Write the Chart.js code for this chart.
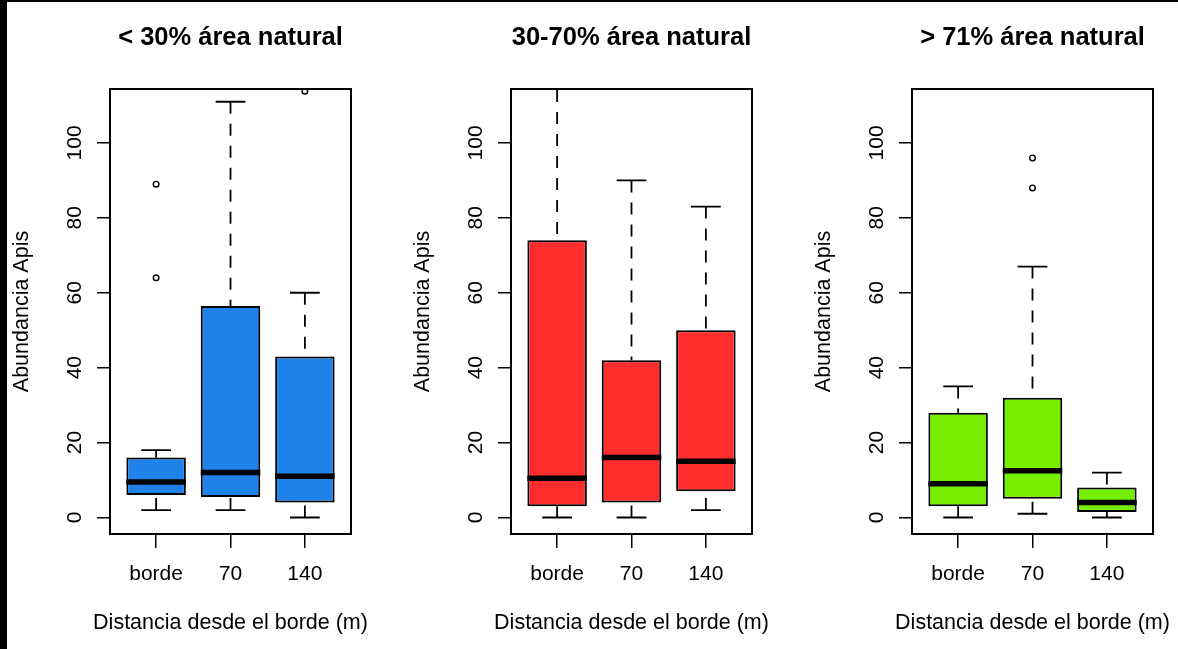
<!DOCTYPE html>
<html>
<head>
<meta charset="utf-8">
<script src="https://cdn.jsdelivr.net/npm/chart.js@4/dist/chart.umd.min.js"></script>
<style>
  html, body { margin: 0; padding: 0; background: #fff; }
  #wrap { position: relative; width: 1178px; height: 649px; overflow: hidden; background: #fff; }
  .panel { position: absolute; top: 0; height: 649px; }
  .panel canvas { display: block; }
  .edge-left { position: absolute; left: 0; top: 0; width: 7px; height: 649px; background: #000; }
  .edge-top { position: absolute; left: 0; top: 0; width: 1178px; height: 2px; background: #000; }
</style>
</head>
<body>
<div id="wrap">
  <div class="panel" style="left:0px;width:400px"><canvas id="p0" width="400" height="649"></canvas></div>
  <div class="panel" style="left:401px;width:400px"><canvas id="p1" width="400" height="649"></canvas></div>
  <div class="panel" style="left:802px;width:376px"><canvas id="p2" width="376" height="649"></canvas></div>
  <div class="edge-left"></div>
  <div class="edge-top"></div>
</div>
<script>
// Distance classes on the x axis
const categories = ['borde', '70', '140'];
const yTickValues = [0, 20, 40, 60, 80, 100];
const panelTitles = ['< 30% área natural', '30-70% área natural', '> 71% área natural'];
const panelColors = ['#1E82E8', '#FF2D2D', '#76EE00'];
const xAxisTitle = 'Distancia desde el borde (m)';
const yAxisTitle = 'Abundancia Apis';

// < 30 % natural area: whisker ends, quartiles, medians, outliers
const lowWhiskerMin = [2, 2, 0];
const lowQ1 = [6, 5.5, 4];
const lowMedian = [9.5, 12, 11];
const lowQ3 = [16, 56.5, 43];
const lowWhiskerMax = [18, 111, 60];
const lowOutliers = [[89, 64], [], [113.8]];

// 30-70 % natural area
const midWhiskerMin = [0, 0, 2];
const midQ1 = [3, 4, 7];
const midMedian = [10.5, 16, 15];
const midQ3 = [74, 42, 50];
const midWhiskerMax = [120, 90, 83];
const midOutliers = [[], [], []];

// > 71 % natural area
const highWhiskerMin = [0, 1, 0];
const highQ1 = [3, 5, 1.5];
const highMedian = [9, 12.5, 4];
const highQ3 = [28, 32, 8];
const highWhiskerMax = [35, 67, 12];
const highOutliers = [[], [96, 88], []];

const groups = [
  { lo: lowWhiskerMin, q1: lowQ1, med: lowMedian, q3: lowQ3, hi: lowWhiskerMax, out: lowOutliers },
  { lo: midWhiskerMin, q1: midQ1, med: midMedian, q3: midQ3, hi: midWhiskerMax, out: midOutliers },
  { lo: highWhiskerMin, q1: highQ1, med: highMedian, q3: highQ3, hi: highWhiskerMax, out: highOutliers }
];

const FAMILY = '"Liberation Sans", Arial, Helvetica, sans-serif';
const tickFont = { family: FAMILY, size: 21, weight: 'normal' };
const labelFont = { family: FAMILY, size: 21.5, weight: 'normal' };

// Whiskers, staples, medians, the plot frame and the x-axis label
const boxDecor = {
  id: 'boxDecor',
  afterDatasetsDraw(chart, args, opts) {
    const { ctx, chartArea: a, scales: { x, y } } = chart;
    const g = opts.group;
    const bars = chart.getDatasetMeta(0).data;
    ctx.save();
    ctx.beginPath();
    ctx.rect(a.left, a.top, a.right - a.left, a.bottom - a.top);
    ctx.clip();
    ctx.strokeStyle = '#000';
    ctx.lineCap = 'butt';
    categories.forEach((c, i) => {
      const cx = x.getPixelForValue(i + 1);
      const half = bars[i].width / 2;
      // dashed whiskers, drawn from the whisker end towards the box
      ctx.lineWidth = 1.8;
      ctx.setLineDash([12, 10]);
      ctx.beginPath();
      ctx.moveTo(cx, y.getPixelForValue(g.hi[i]));
      ctx.lineTo(cx, y.getPixelForValue(g.q3[i]));
      ctx.moveTo(cx, y.getPixelForValue(g.lo[i]));
      ctx.lineTo(cx, y.getPixelForValue(g.q1[i]));
      ctx.stroke();
      // staples
      ctx.setLineDash([]);
      ctx.beginPath();
      ctx.moveTo(cx - half / 2, y.getPixelForValue(g.hi[i]));
      ctx.lineTo(cx + half / 2, y.getPixelForValue(g.hi[i]));
      ctx.moveTo(cx - half / 2, y.getPixelForValue(g.lo[i]));
      ctx.lineTo(cx + half / 2, y.getPixelForValue(g.lo[i]));
      ctx.stroke();
      // median
      ctx.lineWidth = 5.5;
      ctx.beginPath();
      ctx.moveTo(cx - half, y.getPixelForValue(g.med[i]));
      ctx.lineTo(cx + half, y.getPixelForValue(g.med[i]));
      ctx.stroke();
    });
    ctx.restore();
    ctx.save();
    ctx.strokeStyle = '#000';
    ctx.lineWidth = 2;
    ctx.strokeRect(a.left, a.top, a.right - a.left, a.bottom - a.top);
    // x-axis label, centred under the plot and allowed to run wider than it
    ctx.fillStyle = '#000';
    ctx.font = `${labelFont.size}px ${FAMILY}`;
    ctx.textAlign = 'center';
    ctx.textBaseline = 'middle';
    ctx.fillText(opts.xLabel, (a.left + a.right) / 2, chart.height - 26);
    ctx.restore();
  }
};

function makePanel(canvasId, p, rightPad) {
  const g = groups[p];
  const boxData = categories.map((c, i) => ({ x: i + 1, y: [g.q1[i], g.q3[i]] }));
  const outlierData = [];
  g.out.forEach((vals, i) => vals.forEach(v => outlierData.push({ x: i + 1, y: v })));

  new Chart(document.getElementById(canvasId), {
    type: 'bar',
    data: {
      datasets: [
        {
          data: boxData,
          backgroundColor: panelColors[p],
          borderColor: '#000',
          borderWidth: 2,
          borderSkipped: false,
          categoryPercentage: 1,
          barPercentage: 0.8
        },
        {
          type: 'scatter',
          data: outlierData,
          pointStyle: 'circle',
          pointRadius: 2.8,
          pointBorderWidth: 1.4,
          pointBorderColor: '#000',
          pointBackgroundColor: 'rgba(0,0,0,0)',
          clip: 0
        }
      ]
    },
    options: {
      responsive: false,
      animation: false,
      events: [],
      layout: { padding: { left: 0, right: rightPad, top: 0, bottom: 0 } },
      plugins: {
        legend: { display: false },
        tooltip: { enabled: false },
        boxDecor: { group: g, xLabel: xAxisTitle }
      },
      scales: {
        x: {
          type: 'linear',
          position: 'bottom',
          min: 0.38,
          max: 3.62,
          offset: false,
          afterBuildTicks: s => { s.ticks = categories.map((c, i) => ({ value: i + 1 })); },
          afterFit: s => { s.height = 115; },
          ticks: {
            autoSkip: false,
            maxRotation: 0,
            padding: 14,
            color: '#000',
            font: tickFont,
            callback: v => categories[Math.round(v) - 1]
          },
          grid: { offset: false, drawOnChartArea: false, drawTicks: true, tickLength: 14, color: '#000', lineWidth: 1.5 },
          border: { display: true, color: '#000', width: 2 },
          title: { display: false }
        },
        y: {
          type: 'linear',
          min: -4.4,
          max: 114.4,
          afterBuildTicks: s => { s.ticks = yTickValues.map(v => ({ value: v })); },
          afterFit: s => { s.width = 110; },
          ticks: {
            autoSkip: false,
            minRotation: 90,
            maxRotation: 90,
            crossAlign: 'center',
            padding: 4,
            color: '#000',
            font: tickFont
          },
          grid: { drawOnChartArea: false, drawTicks: true, tickLength: 13, color: '#000', lineWidth: 1.5 },
          border: { display: true, color: '#000', width: 2 },
          title: { display: true, text: yAxisTitle, color: '#000', font: labelFont, padding: { top: 9, bottom: 0 } }
        },
        heading: {
          axis: 'x',
          type: 'linear',
          position: 'top',
          display: true,
          afterFit: s => { s.height = 89; },
          ticks: { display: false },
          grid: { display: false, drawTicks: false },
          border: { display: false },
          title: {
            display: true,
            text: panelTitles[p],
            color: '#000',
            font: { family: FAMILY, size: 25.5, weight: 'bold' },
            padding: { top: 23, bottom: 0 }
          }
        }
      }
    },
    plugins: [boxDecor]
  });
}

makePanel('p0', 0, 49);
makePanel('p1', 1, 49);
makePanel('p2', 2, 25);
</script>
</body>
</html>
